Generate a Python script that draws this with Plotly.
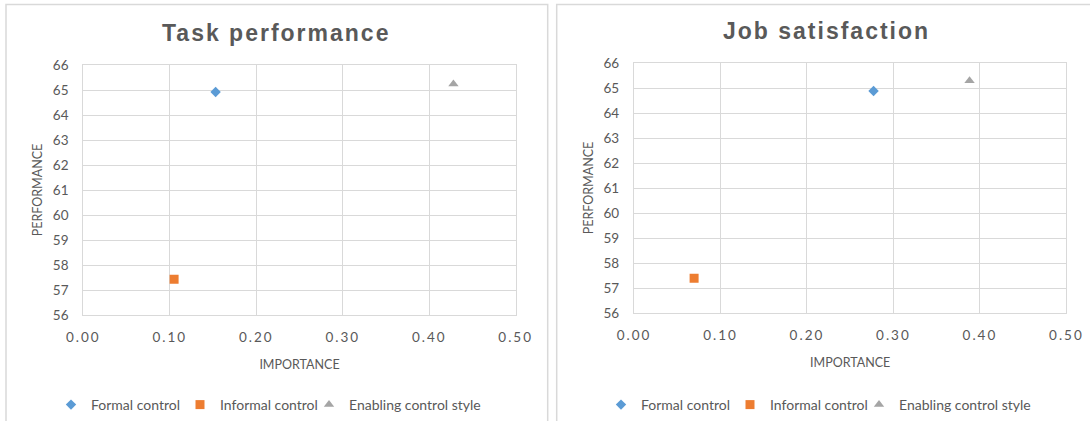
import plotly.graph_objects as go

# Importance (x) and performance (y) per control type, for each outcome
series_names = ["Formal control", "Informal control", "Enabling control style"]
task_importance = [0.153, 0.105, 0.428]
task_performance = [64.92, 57.43, 65.24]
job_importance = [0.277, 0.0695, 0.388]
job_performance = [64.88, 57.39, 65.29]

x_ticks = [0.0, 0.1, 0.2, 0.3, 0.4, 0.5]
x_tick_labels = ["0.00", "0.10", "0.20", "0.30", "0.40", "0.50"]
y_ticks = list(range(56, 67))

colors = ["#5b9bd5", "#ed7d31", "#a5a5a5"]
symbols = ["diamond", "square", "triangle-up"]
sizes = [8, 9, 9]

W, H = 1090, 421
TEXT = "#595959"
GRID = "#d9d9d9"
FONT = "Lato, 'Open Sans', sans-serif"
TITLE_FONT = "'Liberation Sans', Arial, sans-serif"


def px(v):
    return v / W


def py(v):
    return 1 - v / H


fig = go.Figure()

panels = [
    ("x", "y", "legend", task_importance, task_performance),
    ("x2", "y2", "legend2", job_importance, job_performance),
]
for xa, ya, leg, xs, ys in panels:
    for i, name in enumerate(series_names):
        fig.add_trace(go.Scatter(
            x=[xs[i]], y=[ys[i]], mode="markers", name=name,
            xaxis=xa, yaxis=ya, legend=leg,
            marker=dict(color=colors[i], symbol=symbols[i], size=sizes[i],
                        line=dict(width=0)),
        ))

axis_common = dict(
    showgrid=True, gridcolor=GRID, gridwidth=1.2,
    showline=True, linecolor=GRID, linewidth=1.2, mirror=True,
    zeroline=False, ticks="", color=TEXT, automargin=False,
    tickfont=dict(family=FONT, size=13.5, color=TEXT),
    fixedrange=True,
)

xaxis_kw = dict(axis_common, range=[0, 0.5], tickvals=x_ticks,
                ticktext=x_tick_labels, ticklabelstandoff=10,
                title=dict(text="IMPORTANCE", standoff=15,
                           font=dict(family=FONT, size=12.5, color=TEXT)))
yaxis_kw = dict(axis_common, range=[56, 66], tickvals=y_ticks,
                ticklabelstandoff=11,
                title=dict(text="PERFORMANCE", standoff=7,
                           font=dict(family=FONT, size=12.5, color=TEXT)))

# Fixed-width legend entries keep the items evenly spaced
legend_kw = dict(orientation="h", xanchor="left", yanchor="bottom",
                 y=0, font=dict(family=FONT, size=14, color=TEXT),
                 bgcolor="rgba(0,0,0,0)", itemwidth=30, tracegroupgap=0,
                 entrywidth=84, entrywidthmode="pixels")

fig.update_layout(
    width=W, height=H,
    margin=dict(l=0, r=0, t=0, b=0),
    paper_bgcolor="white", plot_bgcolor="white",
    font=dict(family=FONT, color=TEXT),
    xaxis=dict(xaxis_kw, domain=[px(83.3), px(515.7)], anchor="y"),
    yaxis=dict(yaxis_kw, domain=[py(315), py(65)], anchor="x"),
    xaxis2=dict(xaxis_kw, domain=[px(634), px(1066.4)], anchor="y2"),
    yaxis2=dict(yaxis_kw, domain=[py(313), py(63)], anchor="x2"),
    legend=dict(legend_kw, x=px(51)),
    legend2=dict(legend_kw, x=px(601)),
    showlegend=True,
    shapes=[
        dict(type="rect", xref="paper", yref="paper",
             x0=px(6), x1=px(547.7), y0=py(430), y1=py(4.5),
             line=dict(color=GRID, width=1.5), fillcolor="rgba(0,0,0,0)",
             layer="below"),
        dict(type="rect", xref="paper", yref="paper",
             x0=px(556.7), x1=px(1100), y0=py(430), y1=py(4.5),
             line=dict(color=GRID, width=1.5), fillcolor="rgba(0,0,0,0)",
             layer="below"),
    ],
    annotations=[
        dict(text="<b>Task performance</b>", xref="paper", yref="paper",
             x=px(276), y=py(33), showarrow=False, xanchor="center",
             yanchor="middle",
             font=dict(family=TITLE_FONT, size=23, color=TEXT)),
        dict(text="<b>Job satisfaction</b>", xref="paper", yref="paper",
             x=px(826), y=py(30.5), showarrow=False, xanchor="center",
             yanchor="middle",
             font=dict(family=TITLE_FONT, size=23, color=TEXT)),
    ],
)

# Wider letter spacing for chart titles and x tick labels; let the last
# fixed-width legend entry show its full text
page_css = (
    "var s=document.createElement('style');"
    "s.textContent='.annotation-text{letter-spacing:2px}"
    " .xtick text,.x2tick text{letter-spacing:2px}"
    " .scrollbox{clip-path:none !important}';"
    "document.head.appendChild(s);"
)

fig.write_html("out.html", post_script=page_css)
